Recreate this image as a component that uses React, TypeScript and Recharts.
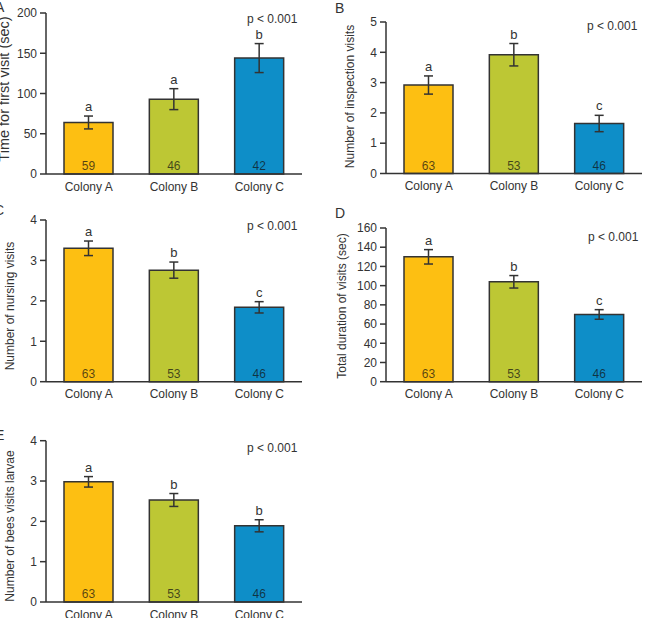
import React from 'react'
import { Bar, BarChart, Cell, ErrorBar, Label, LabelList, XAxis, YAxis } from 'recharts'

const colonies = ['Colony A', 'Colony B', 'Colony C']
const barColors = ['#fdbf12', '#bdc734', '#0e8ec8']

const firstVisitMean = [64, 93, 144]
const firstVisitErr = [8, 13, 18]
const firstVisitLetters = ['a', 'a', 'b']
const firstVisitN = [59, 46, 42]

const inspectionMean = [2.92, 3.92, 1.65]
const inspectionErr = [0.3, 0.37, 0.27]
const inspectionLetters = ['a', 'b', 'c']

const nursingMean = [3.3, 2.76, 1.84]
const nursingErr = [0.18, 0.2, 0.14]
const nursingLetters = ['a', 'b', 'c']

const durationMean = [130, 104, 70]
const durationErr = [7.5, 6.5, 5]
const durationLetters = ['a', 'b', 'c']

const larvaeMean = [2.98, 2.53, 1.89]
const larvaeErr = [0.13, 0.16, 0.15]
const larvaeLetters = ['a', 'b', 'b']

const visitN = [63, 53, 46]

const FONT = '"Liberation Sans", Arial, sans-serif'
const INK = '#333'

interface Row {
    name: string
    mean: number
    err: number
    letter: string
    n: number
}

const buildRows = (mean: number[], err: number[], letters: string[], n: number[]): Row[] =>
    colonies.map((name, i) => ({ name, mean: mean[i], err: err[i], letter: letters[i], n: n[i] }))

interface PanelSpec {
    tag: string
    rows: Row[]
    box: { left: number; top: number; width: number; height: number }
    plot: { x0: number; x1: number; y0: number; y1: number }
    domain: [number, number]
    ticks: number[]
    yLabel: string
    labelSize: number
    labelAt: [number, number]
    tagPos: [number, number]
    pPos: [number, number]
}

const panels: PanelSpec[] = [
    {
        tag: 'A',
        rows: buildRows(firstVisitMean, firstVisitErr, firstVisitLetters, firstVisitN),
        box: { left: 0, top: 0, width: 330, height: 200 },
        plot: { x0: 46, x1: 302, y0: 13, y1: 174 },
        domain: [0, 200],
        ticks: [0, 50, 100, 150, 200],
        yLabel: 'Time for first visit (sec)',
        labelSize: 14.5,
        labelAt: [4, 89],
        tagPos: [-5, 12],
        pPos: [247, 23],
    },
    {
        tag: 'B',
        rows: buildRows(inspectionMean, inspectionErr, inspectionLetters, visitN),
        box: { left: 330, top: 0, width: 324, height: 200 },
        plot: { x0: 386, x1: 642, y0: 22, y1: 173.5 },
        domain: [0, 5],
        ticks: [0, 1, 2, 3, 4, 5],
        yLabel: 'Number of inspection visits',
        labelSize: 12,
        labelAt: [350, 96.5],
        tagPos: [335, 13],
        pPos: [587, 30],
    },
    {
        tag: 'C',
        rows: buildRows(nursingMean, nursingErr, nursingLetters, visitN),
        box: { left: 0, top: 200, width: 330, height: 200 },
        plot: { x0: 46, x1: 302, y0: 220, y1: 381.7 },
        domain: [0, 4],
        ticks: [0, 1, 2, 3, 4],
        yLabel: 'Number of nursing visits',
        labelSize: 12,
        labelAt: [10, 306],
        tagPos: [-6, 215],
        pPos: [247, 230],
    },
    {
        tag: 'D',
        rows: buildRows(durationMean, durationErr, durationLetters, visitN),
        box: { left: 330, top: 200, width: 324, height: 200 },
        plot: { x0: 386, x1: 642, y0: 228, y1: 381.7 },
        domain: [0, 160],
        ticks: [0, 20, 40, 60, 80, 100, 120, 140, 160],
        yLabel: 'Total duration of visits (sec)',
        labelSize: 12,
        labelAt: [342, 306],
        tagPos: [335, 218],
        pPos: [588, 240.5],
    },
    {
        tag: 'E',
        rows: buildRows(larvaeMean, larvaeErr, larvaeLetters, visitN),
        box: { left: 0, top: 400, width: 330, height: 218 },
        plot: { x0: 46, x1: 302, y0: 440.7, y1: 602 },
        domain: [0, 4],
        ticks: [0, 1, 2, 3, 4],
        yLabel: 'Number of bees visits larvae',
        labelSize: 12,
        labelAt: [10, 526],
        tagPos: [-5, 440],
        pPos: [247, 451.5],
    },
]

const Y_AXIS_W = 40
const X_AXIS_H = 20

const Panel: React.FC<{ spec: PanelSpec }> = ({ spec }) => {
    const { box, plot, rows } = spec
    const margin = {
        left: plot.x0 - box.left - Y_AXIS_W,
        right: box.left + box.width - plot.x1,
        top: plot.y0 - box.top,
        bottom: box.top + box.height - plot.y1 - X_AXIS_H,
    }

    // significance letter sits just above the whisker
    const renderLetter = (props: any) => {
        const { x, y, width, height, index } = props
        const r = rows[index]
        if (!r) return null
        const whiskerTop = y - (r.err * height) / r.mean
        return (
            <text x={x + width / 2} y={whiskerTop - 5} textAnchor="middle" fontSize={13} fill={INK}>
                {r.letter}
            </text>
        )
    }

    // sample size printed at the foot of the bar
    const renderCount = (props: any) => {
        const { x, y, width, height, index } = props
        const r = rows[index]
        if (!r) return null
        return (
            <text x={x + width / 2} y={y + height - 4} textAnchor="middle" fontSize={12} fill="#111" fillOpacity={0.72}>
                {r.n}
            </text>
        )
    }

    // axis title, centred where the original puts it (not always mid-axis)
    const cx = spec.labelAt[0] - box.left
    const cy = spec.labelAt[1] - box.top
    const renderTitle = () => (
        <text
            x={cx}
            y={cy}
            transform={`rotate(-90, ${cx}, ${cy})`}
            textAnchor="middle"
            dominantBaseline="central"
            fontSize={spec.labelSize}
            fill={INK}
        >
            {spec.yLabel}
        </text>
    )

    return (
        <div style={{ position: 'absolute', left: box.left, top: box.top }}>
            <BarChart width={box.width} height={box.height} data={rows} margin={margin}>
                <XAxis
                    dataKey="name"
                    height={X_AXIS_H}
                    tickLine={false}
                    axisLine={{ stroke: INK, strokeWidth: 1.5 }}
                    tick={{ fill: INK, fontSize: 12 }}
                    interval={0}
                />
                <YAxis
                    width={Y_AXIS_W}
                    domain={spec.domain}
                    ticks={spec.ticks}
                    interval={0}
                    tickSize={6}
                    tickMargin={3}
                    axisLine={{ stroke: INK, strokeWidth: 1.5 }}
                    tickLine={{ stroke: INK, strokeWidth: 1.5 }}
                    tick={{ fill: INK, fontSize: 12 }}
                >
                    <Label content={renderTitle} />
                </YAxis>
                <Bar dataKey="mean" barSize={49} stroke={INK} strokeWidth={1.5} isAnimationActive={false}>
                    {rows.map((r, i) => (
                        <Cell key={r.name} fill={barColors[i]} />
                    ))}
                    <ErrorBar dataKey="err" width={4.5} stroke={INK} strokeWidth={1.5} />
                    <LabelList content={renderLetter} />
                    <LabelList content={renderCount} />
                </Bar>
            </BarChart>
        </div>
    )
}

export default function App() {
    return (
        <div style={{ position: 'absolute', left: 0, top: 0, width: 654, height: 618, overflow: 'hidden', background: '#fff', fontFamily: FONT }}>
            {panels.map(p => (
                <Panel key={p.tag} spec={p} />
            ))}
            <svg width={654} height={618} style={{ position: 'absolute', left: 0, top: 0, pointerEvents: 'none' }}>
                {panels.map(p => (
                    <g key={p.tag}>
                        <text x={p.tagPos[0]} y={p.tagPos[1]} fontSize={14} fill={INK}>
                            {p.tag}
                        </text>
                        <text x={p.pPos[0]} y={p.pPos[1]} fontSize={12} fill={INK}>
                            p &lt; 0.001
                        </text>
                    </g>
                ))}
            </svg>
        </div>
    )
}
